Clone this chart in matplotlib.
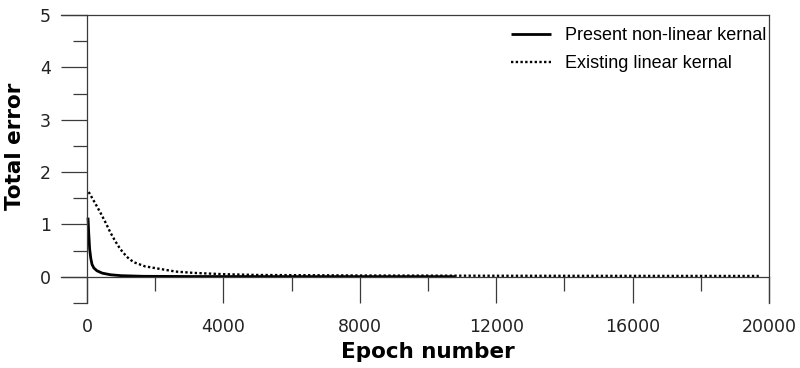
import matplotlib
matplotlib.use("Agg")
import matplotlib.pyplot as plt
from matplotlib.ticker import MultipleLocator

# values
present_epoch = [30, 50, 78, 110, 146, 200, 293, 450, 683, 1000, 1650, 3000, 6000, 10800]
present_error = [1.13, 0.85, 0.53, 0.36, 0.24, 0.17, 0.115, 0.07, 0.04, 0.022, 0.01, 0.006, 0.004, 0.003]

existing_epoch = [50, 200, 390, 550, 683, 830, 976, 1170, 1366, 1700, 2150, 2600, 3127, 4000,
                  5000, 8000, 12000, 16000, 19700]
existing_error = [1.62, 1.45, 1.23, 1.03, 0.85, 0.68, 0.53, 0.38, 0.28, 0.2, 0.15, 0.1, 0.075,
                  0.05, 0.035, 0.025, 0.02, 0.018, 0.016]

series_labels = ["Present non-linear kernal", "Existing linear kernal"]
x_ticks = [0, 4000, 8000, 12000, 16000, 20000]
y_ticks = [0, 1, 2, 3, 4, 5]

axis_color = "#3a3a3a"

fig = plt.figure(figsize=(8, 3.68), dpi=100)
ax = fig.add_axes([61 / 800, 65 / 368, 708 / 800, 288 / 368])

ax.plot(present_epoch, present_error, color="black", lw=2.0, label=series_labels[0],
        solid_capstyle="butt")
ax.plot(existing_epoch, existing_error, color="black", lw=1.7, linestyle=(0, (1, 1)),
        label=series_labels[1])

ax.set_xlim(-762, 20000)
ax.set_ylim(-0.5, 5)

# axes cross at the origin, grapher style
ax.spines["left"].set_position(("data", 0))
ax.spines["bottom"].set_position(("data", 0))
for side in ["left", "bottom", "top", "right"]:
    ax.spines[side].set_color(axis_color)
    ax.spines[side].set_linewidth(0.9)

ax.set_xticks(x_ticks)
ax.set_yticks(y_ticks)
ax.xaxis.set_minor_locator(MultipleLocator(2000))
ax.yaxis.set_minor_locator(MultipleLocator(0.5))
ax.tick_params(axis="both", which="major", direction="out", length=19, width=0.9,
               color=axis_color, labelsize=12.5, labelcolor="#222222")
ax.tick_params(axis="x", which="major", pad=11)
ax.tick_params(axis="y", which="major", pad=7)
ax.tick_params(axis="both", which="minor", direction="out", length=10, width=0.9,
               color=axis_color)
ax.tick_params(top=False, right=False)

ax.set_xlabel("Epoch number", fontsize=15.5, fontweight="bold")
ax.set_ylabel("Total error", fontsize=15.5, fontweight="bold")
ax.xaxis.set_label_coords(0.518, -0.135)
ax.yaxis.set_label_coords(-0.051, 0.545)

leg = ax.legend(loc="upper right", frameon=False, handlelength=2.2, handletextpad=0.78,
                labelspacing=0.6, prop={"family": "Liberation Sans", "size": 13},
                borderpad=0, borderaxespad=0,
                bbox_to_anchor=(1 - 3 / 708, 1 - 12 / 288))

fig.savefig("out.png", dpi=100)
